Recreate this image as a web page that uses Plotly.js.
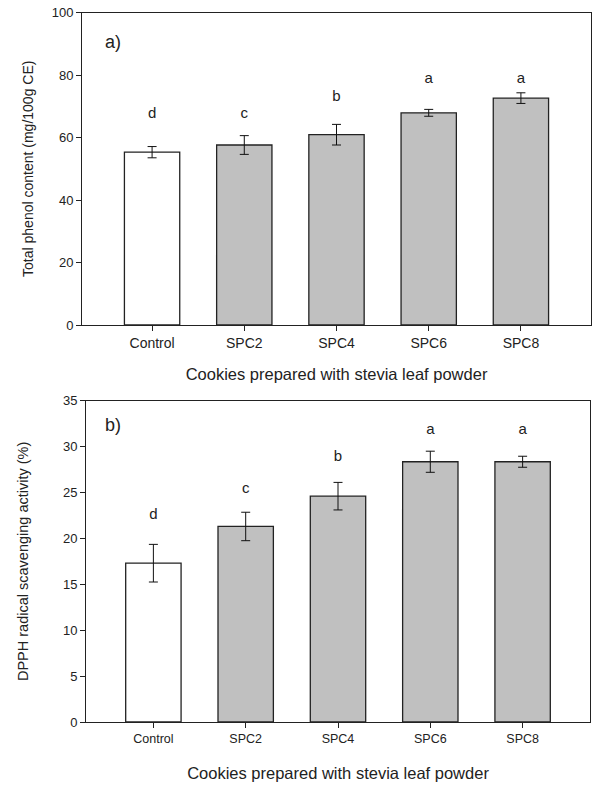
<!DOCTYPE html>
<html>
<head>
<meta charset="utf-8">
<script src="https://cdn.plot.ly/plotly-3.0.1.min.js"></script>
<style>html,body{margin:0;padding:0;background:#fff;}#chart{width:592px;height:785px;}</style>
</head>
<body>
<div id="chart"></div>
<script>
const categories = ['Control', 'SPC2', 'SPC4', 'SPC6', 'SPC8'];

const phenolMean = [55.3, 57.6, 60.9, 67.9, 72.6];
const phenolErr = [1.8, 3.0, 3.3, 1.1, 1.7];
const phenolLetters = ['d', 'c', 'b', 'a', 'a'];
const phenolLetterY = [67.4, 67.4, 73.0, 78.6, 78.6];

const dpphMean = [17.3, 21.3, 24.6, 28.35, 28.35];
const dpphErr = [2.05, 1.55, 1.5, 1.15, 0.6];
const dpphLetters = ['d', 'c', 'b', 'a', 'a'];
const dpphLetterY = [22.5, 25.3, 28.8, 31.8, 31.8];

const barColors = ['#ffffff', '#c0c0c0', '#c0c0c0', '#c0c0c0', '#c0c0c0'];
const FONT = 'Liberation Sans, Arial, sans-serif';
const TXT = '#222';

const W = 592, H = 785;
function px(x){return x / W;}
function py(y){return 1 - y / H;}

const traces = [
  {
    type: 'bar', x: categories, y: phenolMean, xaxis: 'x', yaxis: 'y', width: 0.6,
    marker: {color: barColors, line: {color: '#222', width: 1.3}},
    error_y: {type: 'data', array: phenolErr, visible: true, color: '#111', thickness: 1, width: 4.5},
    hoverinfo: 'none'
  },
  {
    type: 'scatter', mode: 'text', x: categories, y: phenolLetterY, text: phenolLetters,
    xaxis: 'x', yaxis: 'y', textfont: {family: FONT, size: 15, color: TXT}, hoverinfo: 'none'
  },
  {
    type: 'bar', x: categories, y: dpphMean, xaxis: 'x2', yaxis: 'y2', width: 0.6,
    marker: {color: barColors, line: {color: '#222', width: 1.3}},
    error_y: {type: 'data', array: dpphErr, visible: true, color: '#111', thickness: 1, width: 4.5},
    hoverinfo: 'none'
  },
  {
    type: 'scatter', mode: 'text', x: categories, y: dpphLetterY, text: dpphLetters,
    xaxis: 'x2', yaxis: 'y2', textfont: {family: FONT, size: 15, color: TXT}, hoverinfo: 'none'
  }
];

const axCommon = {
  showline: true, linecolor: '#222', linewidth: 1, mirror: true,
  ticks: 'outside', ticklen: 5, tickcolor: '#222', tickwidth: 1,
  showgrid: false, zeroline: false, fixedrange: true
};

const layout = {
  width: W, height: H,
  margin: {l: 0, r: 0, t: 0, b: 0},
  paper_bgcolor: '#fff', plot_bgcolor: '#fff',
  showlegend: false,
  font: {family: FONT, color: TXT},
  xaxis: Object.assign({}, axCommon, {
    domain: [px(82), px(591)], anchor: 'y', range: [-0.76, 4.76],
    tickfont: {size: 14, color: TXT},
    title: {text: 'Cookies prepared with stevia leaf powder', font: {size: 16.5, color: TXT}, standoff: 18}
  }),
  yaxis: Object.assign({}, axCommon, {
    domain: [py(325), py(12.5)], anchor: 'x', range: [0, 100], dtick: 20,
    tickfont: {size: 13, color: TXT},
    title: {text: 'Total phenol content (mg/100g CE)', font: {size: 14, color: TXT}, standoff: 14}
  }),
  xaxis2: Object.assign({}, axCommon, {
    domain: [px(86), px(590)], anchor: 'y2', range: [-0.73, 4.73],
    tickfont: {size: 12.5, color: TXT},
    title: {text: 'Cookies prepared with stevia leaf powder', font: {size: 16.5, color: TXT}, standoff: 22}
  }),
  yaxis2: Object.assign({}, axCommon, {
    domain: [py(722), py(400.7)], anchor: 'x2', range: [0, 35], dtick: 5,
    tickfont: {size: 13, color: TXT},
    title: {text: 'DPPH radical scavenging activity (%)', font: {size: 14.5, color: TXT}, standoff: 30}
  }),
  annotations: [
    {text: 'a)', xref: 'paper', yref: 'paper', x: px(113), y: py(42), showarrow: false,
     font: {family: FONT, size: 18, color: TXT}, xanchor: 'center', yanchor: 'middle'},
    {text: 'b)', xref: 'paper', yref: 'paper', x: px(113), y: py(425), showarrow: false,
     font: {family: FONT, size: 18, color: TXT}, xanchor: 'center', yanchor: 'middle'}
  ]
};

Plotly.newPlot('chart', traces, layout, {displayModeBar: false, staticPlot: true});
</script>
</body>
</html>
